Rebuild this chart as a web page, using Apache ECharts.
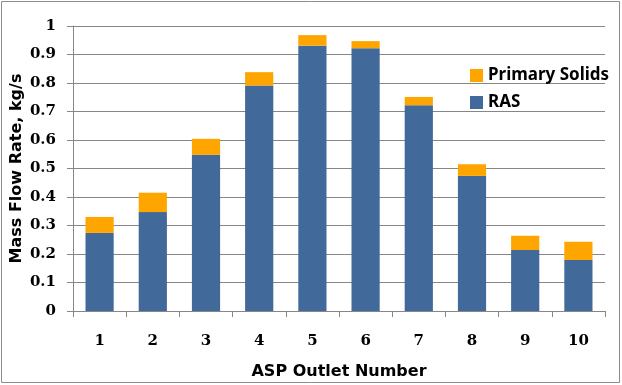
<!DOCTYPE html>
<html><head><meta charset="utf-8">
<script src="https://cdn.jsdelivr.net/npm/echarts@6/dist/echarts.min.js"></script>
<style>html,body{margin:0;padding:0;background:#fff}#c{width:622px;height:385px}</style>
</head><body><div id="c"></div>
<script>
const categories = ['1','2','3','4','5','6','7','8','9','10'];
const rasValues = [0.274, 0.347, 0.548, 0.791, 0.931, 0.922, 0.722, 0.474, 0.214, 0.179];
const primarySolidsValues = [0.056, 0.068, 0.056, 0.047, 0.037, 0.025, 0.029, 0.041, 0.050, 0.064];
const yTicks = [0, 0.1, 0.2, 0.3, 0.4, 0.5, 0.6, 0.7, 0.8, 0.9, 1];

const chart = echarts.init(document.getElementById('c'), null, {renderer: 'canvas'});
const tickFont = {fontFamily: 'DejaVu Serif', fontWeight: 'bold', fontSize: 15, color: '#000'};
chart.setOption({
  animation: false,
  backgroundColor: '#fff',
  graphic: [{type: 'rect', shape: {x: 1.5, y: 1.5, width: 618, height: 381}, style: {fill: 'none', stroke: '#8c8c8c', lineWidth: 1}, silent: true}],
  grid: {left: 73, right: 17, top: 26, bottom: 74, containLabel: false, outerBoundsMode: 'none'},
  legend: {
    data: ['Primary Solids', 'RAS'],
    orient: 'vertical',
    left: 465, top: 62,
    itemWidth: 13, itemHeight: 13, itemGap: 10,
    icon: 'rect',
    textStyle: {fontFamily: 'Noto Sans', fontWeight: 'bold', fontSize: 17, color: '#000'}
  },
  xAxis: {
    type: 'category', data: categories,
    name: 'ASP Outlet Number', nameLocation: 'middle', nameGap: 53, nameMoveOverlap: false,
    nameTextStyle: {fontFamily: 'DejaVu Sans', fontWeight: 'bold', fontSize: 16, color: '#000'},
    axisLine: {lineStyle: {color: '#868686'}},
    axisTick: {show: true, length: 6, lineStyle: {color: '#868686'}},
    axisLabel: Object.assign({margin: 23}, tickFont)
  },
  yAxis: {
    type: 'value', min: yTicks[0], max: yTicks[yTicks.length - 1], interval: 0.1,
    name: 'Mass Flow Rate, kg/s', nameLocation: 'middle', nameGap: 48, nameMoveOverlap: false,
    nameTextStyle: {fontFamily: 'DejaVu Sans', fontWeight: 'bold', fontSize: 16, color: '#000'},
    axisLine: {show: true, lineStyle: {color: '#868686'}},
    axisTick: {show: true, length: 6, lineStyle: {color: '#868686'}},
    splitLine: {lineStyle: {color: '#868686'}},
    axisLabel: Object.assign({margin: 17, formatter: v => String(+v.toFixed(1))}, tickFont)
  },
  series: [
    {name: 'RAS', type: 'bar', stack: 'total', data: rasValues, barWidth: '53%', itemStyle: {color: '#41699A'}},
    {name: 'Primary Solids', type: 'bar', stack: 'total', data: primarySolidsValues, barWidth: '53%', itemStyle: {color: '#FFA500'}}
  ]
});
</script></body></html>
